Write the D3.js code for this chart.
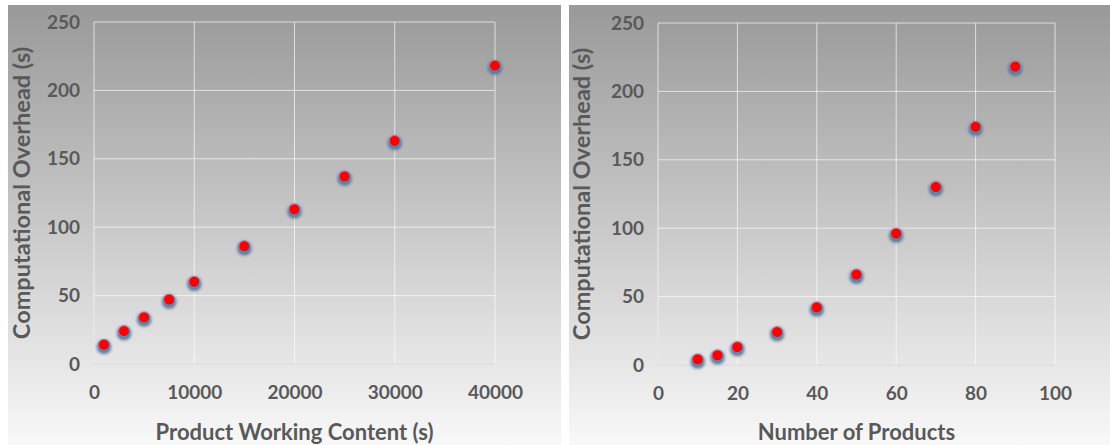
<!DOCTYPE html>
<html>
<head>
<meta charset="utf-8">
<script src="https://cdn.jsdelivr.net/npm/d3@7"></script>
<style>
  body { margin: 0; background: #fff; }
  svg { display: block; }
  .tick text { font-family: Lato, "Open Sans", sans-serif; font-size: 19px; fill: #595959; font-weight: 700; }
  .title { font-family: Lato, "Open Sans", sans-serif; font-size: 22px; fill: #595959; font-weight: 700; }
  .ytitle { font-size: 23.5px; }
</style>
</head>
<body>
<script>
const width = 1110, height = 445;

// left chart data
const workContent = [1000, 3000, 5000, 7500, 10000, 15000, 20000, 25000, 30000, 40000];
const overheadA = [14, 24, 34, 47, 60, 86, 113, 137, 163, 218];
const xTicksA = [0, 10000, 20000, 30000, 40000];

// right chart data
const numProducts = [10, 15, 20, 30, 40, 50, 60, 70, 80, 90];
const overheadB = [4, 7, 13, 24, 42, 66, 96, 130, 174, 218];
const xTicksB = [0, 20, 40, 60, 80, 100];

const yTicks = [0, 50, 100, 150, 200, 250];

const svg = d3.select('body').append('svg')
  .attr('width', width)
  .attr('height', height);

const defs = svg.append('defs');
const grad = defs.append('linearGradient')
  .attr('id', 'bg').attr('x1', 0).attr('y1', 0).attr('x2', 0).attr('y2', 1);
grad.append('stop').attr('offset', '0%').attr('stop-color', '#999999');
grad.append('stop').attr('offset', '100%').attr('stop-color', '#f8f8f8');

// bluish glow behind the dots
const glow = defs.append('filter').attr('id', 'glow')
  .attr('x', '-100%').attr('y', '-100%').attr('width', '300%').attr('height', '300%');
glow.append('feMorphology').attr('in', 'SourceAlpha').attr('operator', 'dilate').attr('radius', 1).attr('result', 'd');
glow.append('feGaussianBlur').attr('in', 'd').attr('stdDeviation', 1.8).attr('result', 'b');
glow.append('feOffset').attr('in', 'b').attr('dy', 1.5).attr('result', 'o');
glow.append('feFlood').attr('flood-color', '#52729c').attr('flood-opacity', 0.95);
glow.append('feComposite').attr('in2', 'o').attr('operator', 'in');
const merge = glow.append('feMerge');
merge.append('feMergeNode');
merge.append('feMergeNode').attr('in', 'SourceGraphic');

function drawPanel(cfg) {
  const g = svg.append('g');
  g.append('rect')
    .attr('x', cfg.panel[0]).attr('y', 5)
    .attr('width', cfg.panel[1] - cfg.panel[0]).attr('height', height - 5)
    .attr('fill', 'url(#bg)');

  const x = d3.scaleLinear().domain(cfg.xDomain).range(cfg.xRange);
  const y = d3.scaleLinear().domain([0, 250]).range([cfg.y0, cfg.y250]);

  // gridlines
  g.append('g').selectAll('line').data(yTicks.slice(1)).join('line')
    .attr('x1', cfg.xRange[0]).attr('x2', cfg.xRange[1])
    .attr('y1', d => y(d)).attr('y2', d => y(d))
    .attr('stroke', '#ffffff').attr('stroke-opacity', 0.65).attr('stroke-width', 1);
  g.append('g').selectAll('line').data(cfg.xTicks).join('line')
    .attr('x1', d => x(d)).attr('x2', d => x(d))
    .attr('y1', cfg.y0).attr('y2', cfg.y250)
    .attr('stroke', '#ffffff').attr('stroke-opacity', 0.65).attr('stroke-width', 1);
  g.append('line')
    .attr('x1', cfg.xRange[0]).attr('x2', cfg.xRange[1])
    .attr('y1', cfg.y0).attr('y2', cfg.y0)
    .attr('stroke', '#d9d9d9').attr('stroke-width', 1.2);
  g.append('line')
    .attr('x1', cfg.xRange[0]).attr('x2', cfg.xRange[0])
    .attr('y1', cfg.y0).attr('y2', cfg.y0 - 60)
    .attr('stroke', '#e0e0e0').attr('stroke-width', 1);

  // axes
  const yAxis = d3.axisLeft(y).tickValues(yTicks).tickSize(0).tickPadding(14);
  g.append('g').attr('transform', `translate(${cfg.xRange[0]},0)`).call(yAxis)
    .call(s => s.select('.domain').remove());
  const xAxis = d3.axisBottom(x).tickValues(cfg.xTicks).tickSize(0).tickPadding(22)
    .tickFormat(d3.format('d'));
  g.append('g').attr('transform', `translate(0,${cfg.y0})`).call(xAxis)
    .call(s => s.select('.domain').remove());

  // titles
  g.append('text').attr('class', 'title')
    .attr('x', (cfg.xRange[0] + cfg.xRange[1]) / 2).attr('y', 440)
    .attr('text-anchor', 'middle').text(cfg.xTitle);
  g.append('text').attr('class', 'title ytitle')
    .attr('transform', `translate(${cfg.yTitleX},${(cfg.y0 + cfg.y250) / 2}) rotate(-90)`)
    .attr('text-anchor', 'middle').attr('dy', '0.35em').text('Computational Overhead (s)');

  // points
  g.append('g').selectAll('circle').data(cfg.xs).join('circle')
    .attr('cx', d => x(d)).attr('cy', (d, i) => y(cfg.ys[i]))
    .attr('r', 5.5)
    .attr('fill', '#ff0000')
    .attr('stroke', '#7090bb').attr('stroke-width', 1)
    .attr('filter', 'url(#glow)');
}

drawPanel({
  panel: [8, 561], xDomain: [0, 40000], xRange: [94, 495], y0: 364, y250: 22,
  xTicks: xTicksA, xs: workContent, ys: overheadA,
  xTitle: 'Product Working Content (s)', yTitleX: 22
});

drawPanel({
  panel: [569, 1110], xDomain: [0, 100], xRange: [658, 1055], y0: 365, y250: 23,
  xTicks: xTicksB, xs: numProducts, ys: overheadB,
  xTitle: 'Number of Products', yTitleX: 582
});
</script>
</body>
</html>
